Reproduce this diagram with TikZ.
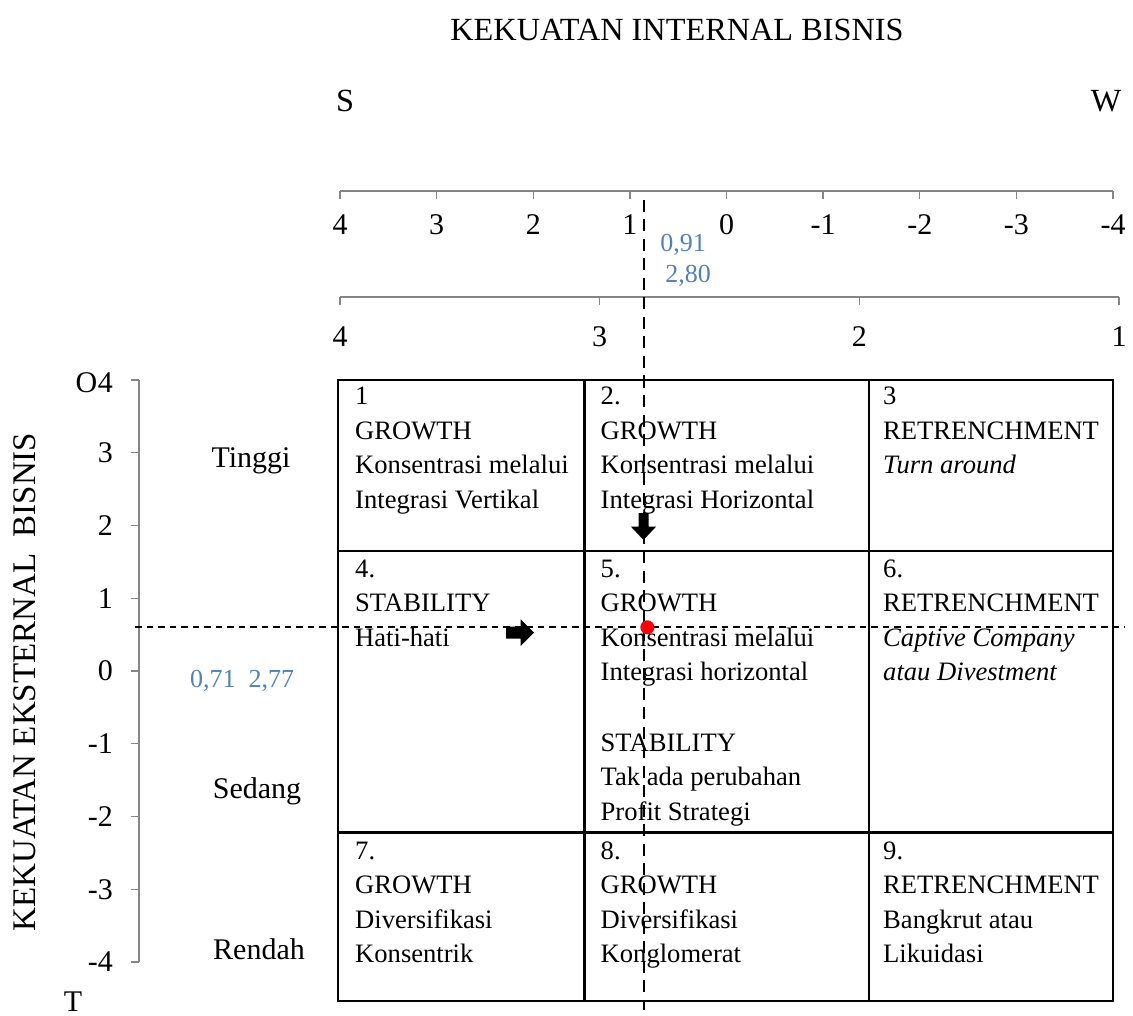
\documentclass[tikz,border=0pt]{standalone}
\usepackage{fontspec}
\setmainfont{Liberation Serif}
\definecolor{axisgray}{RGB}{134,134,134}
\definecolor{valblue}{RGB}{79,129,189}
\newcommand\celllines[4]{%
  \foreach \t [count=\k] in {#4}
    \node[celltext] (#1-\k) at (#2, #3+34.5*\k-34.5) {\t};}
\begin{document}
\begin{tikzpicture}[x=1pt, y=-1pt,
  big/.style={font=\fontsize{30}{36}\selectfont, inner sep=0pt},
  head/.style={font=\fontsize{32.3}{38}\selectfont, inner sep=0pt},
  celltext/.style={font=\fontsize{26.6}{32}\selectfont, inner sep=0pt, anchor=base west},
  val/.style={font=\fontsize{26}{30}\selectfont, text=valblue, inner sep=0pt},
  axisline/.style={draw=axisgray, line width=1.3pt},
  gridline/.style={line width=2.2pt},
  guideh/.style={line width=2pt, dash pattern=on 6.5pt off 5pt},
  guidev/.style={line width=2pt, dash pattern=on 12pt off 7.5pt},
  blockarrow/.style={fill=black, draw=none}]
\useasboundingbox (0,0) rectangle (1133,1016);

% titles
\node[head] (title) at (677,30) {KEKUATAN INTERNAL BISNIS};
\node[head, anchor=base] (lblS) at (345,112) {S};
\node[head, anchor=base] (lblW) at (1106,112) {W};
\node[head, font=\fontsize{33}{38}\selectfont, anchor=base, rotate=90] (ytitle) at (35,682)
  {KEKUATAN EKSTERNAL\ \ BISNIS};
\node[big, anchor=base] (lblT) at (73,1011) {T};

% upper axis: IFE score scale 4 .. -4
\draw[axisline] (340,191) -- (1113,191);
\foreach \i in {0,...,8}
  \draw[axisline] (340+96.625*\i,191) -- ++(0,8);
\foreach \v [count=\i from 0] in {4,3,2,1,0,-1,-2,-3,-4}
  \node[big] (ta\i) at (340+96.625*\i,225) {\v};

% lower axis: 4 .. 1
\draw[axisline] (340,297) -- (1119,297);
\foreach \i in {0,...,3}
  \draw[axisline] (340+259.67*\i,297) -- ++(0,8);
\foreach \v [count=\i from 0] in {4,3,2,1}
  \node[big] (tb\i) at (340+259.67*\i,337) {\v};

% values on the axes
\node[val] (vx1) at (683,245) {0,91};
\node[val] (vx2) at (688,276) {2,80};
\node[val] (vy) at (242,681) {0,71\ \ 2,77};

% vertical axis 4 .. -4
\draw[axisline] (139,380) -- (139,962);
\foreach \i in {0,...,8}
  \draw[axisline] (131,380+72.75*\i) -- (139,380+72.75*\i);
\node[big, anchor=east] (ly0) at (113,383) {4};
\foreach \v [count=\i from 1] in {3,2,1,0,-1,-2,-3,-4}
  \node[big, anchor=east] (ly\i) at (113,380+72.75*\i) {\v};
\node[big, anchor=base east] (lblO) at (ly0.base west) {O};

% level labels
\node[big, anchor=base] (tinggi) at (251,467) {Tinggi};
\node[big, anchor=base] (sedang) at (257,798) {Sedang};
\node[big, anchor=base] (rendah) at (259,959) {Rendah};

% 3x3 grid
\draw[gridline] (338,380) rectangle (1113,1001);
\draw[gridline] (584.5,380) -- (584.5,1001);
\draw[gridline] (868.7,380) -- (868.7,1001);
\draw[gridline] (338,550.7) -- (1113,550.7);
\draw[gridline] (338,832.5) -- (1113,832.5);

% cell contents
\celllines{c1}{355}{404.5}{1,GROWTH,Konsentrasi melalui,Integrasi Vertikal}
\celllines{c2}{600.5}{404.5}{2.,GROWTH,Konsentrasi melalui,Integrasi Horizontal}
\celllines{c3}{883}{404.5}{3,RETRENCHMENT,\textit{Turn around}}
\celllines{c4}{355}{577}{4.,STABILITY,Hati-hati}
\celllines{c5}{600.5}{577}{5.,GROWTH,Konsentrasi melalui,Integrasi horizontal}
\celllines{c5b}{600.5}{751}{STABILITY,Tak ada perubahan,Profit Strategi}
\celllines{c6}{883}{577}{6.,RETRENCHMENT,\textit{Captive Company},\textit{atau Divestment}}
\celllines{c7}{355}{859}{7.,GROWTH,Diversifikasi,Konsentrik}
\celllines{c8}{600.5}{859}{8.,GROWTH,Diversifikasi,Konglomerat}
\celllines{c9}{883}{859}{9.,RETRENCHMENT,Bangkrut atau,Likuidasi}

% position guides
\coordinate (vtop) at (643.5,200);
\coordinate (vbot) at (643.5,1010);
\coordinate (hleft) at (135,627);
\coordinate (hright) at (1125,627);
\draw[guidev] (vtop) -- (vbot);
\draw[guideh] (hleft) -- (hright);

% block arrows
\fill[blockarrow] (506,626.7) -- (520.7,626.7) -- (520.7,619.3) -- (534,632.7)
  -- (520.7,646) -- (520.7,638.7) -- (506,638.7) -- cycle;
\fill[blockarrow] (638.5,513) -- (648.5,513) -- (648.5,526.7) -- (656,526.7)
  -- (643.5,540) -- (631,526.7) -- (638.5,526.7) -- cycle;

% company position
\node[circle, fill=red, inner sep=0pt, minimum size=14pt] (pos) at (647.3,627.3) {};
\end{tikzpicture}
\end{document}
